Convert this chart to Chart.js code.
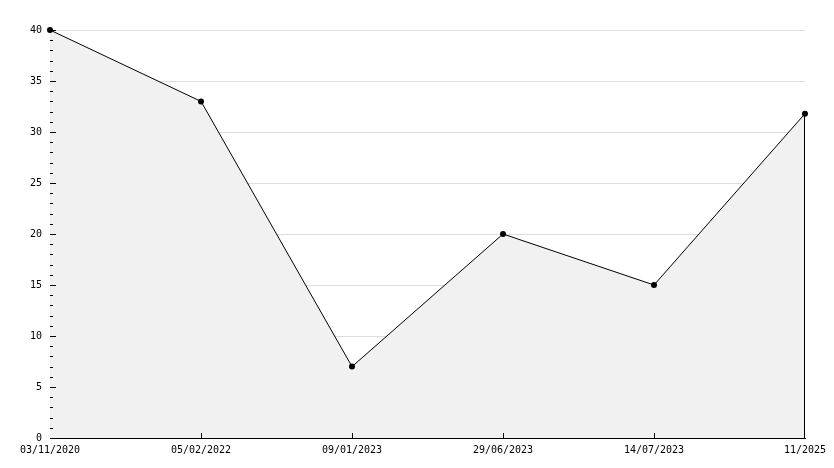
<!DOCTYPE html>
<html>
<head>
<meta charset="utf-8">
<script src="https://cdn.jsdelivr.net/npm/chart.js@4/dist/chart.umd.min.js"></script>
<style>
  body { margin: 0; background: #fff; }
  #wrap { width: 834px; height: 468px; }
</style>
</head>
<body>
<div id="wrap"><canvas id="grafico" width="834" height="468"></canvas></div>
<script>
// datos
const fechas = ['03/11/2020', '05/02/2022', '09/01/2023', '29/06/2023', '14/07/2023', '11/2025'];
const valores = [40, 33, 7, 20, 15, 31.8];
const yMin = 0;
const yMax = 40;
const yPaso = 5;
const yMenor = 1;

const fuente = { family: 'DejaVu Sans Mono', size: 10 };

// marcas menores del eje y, marcas del eje x hacia dentro y borde derecho del area
const marcasPlugin = {
  id: 'marcas',
  afterDatasetsDraw(chart) {
    const ctx = chart.ctx;
    const y = chart.scales.y;
    const x = chart.scales.x;
    const area = chart.chartArea;
    ctx.save();
    ctx.strokeStyle = '#000';
    ctx.lineWidth = 1;
    ctx.beginPath();
    for (let v = yMin; v <= yMax; v += yMenor) {
      const py = Math.round(y.getPixelForValue(v)) + 0.5;
      const largo = (v % yPaso === 0) ? 6 : 3;
      ctx.moveTo(area.left, py);
      ctx.lineTo(area.left + largo, py);
    }
    for (let i = 1; i < fechas.length - 1; i++) {
      const px = Math.round(x.getPixelForValue(i)) + 0.5;
      ctx.moveTo(px, area.bottom);
      ctx.lineTo(px, area.bottom - 5);
    }
    const ult = valores.length - 1;
    const pxU = Math.round(x.getPixelForValue(ult)) - 0.5;
    ctx.moveTo(pxU, y.getPixelForValue(valores[ult]));
    ctx.lineTo(pxU, area.bottom);
    ctx.stroke();
    ctx.restore();
  }
};

new Chart(document.getElementById('grafico'), {
  type: 'line',
  data: {
    labels: fechas,
    datasets: [{
      data: valores,
      borderColor: '#000',
      borderWidth: 1,
      backgroundColor: '#f1f1f1',
      fill: 'origin',
      tension: 0,
      pointRadius: 3,
      pointHoverRadius: 3,
      pointBackgroundColor: '#000',
      pointBorderColor: '#000',
      pointBorderWidth: 0,
      clip: false
    }]
  },
  options: {
    responsive: false,
    animation: false,
    layout: { padding: { top: 30, right: 29, left: 0, bottom: 0 } },
    plugins: {
      legend: { display: false },
      tooltip: { enabled: false },
      title: { display: false }
    },
    scales: {
      x: {
        type: 'category',
        offset: false,
        grid: { display: false, drawTicks: false },
        border: { display: true, color: '#000', width: 1 },
        ticks: {
          color: '#000',
          font: fuente,
          padding: 6,
          autoSkip: false,
          maxRotation: 0,
          minRotation: 0
        },
        afterFit(scale) { scale.height = 30; }
      },
      y: {
        min: yMin,
        max: yMax,
        grid: {
          drawTicks: false,
          color: (c) => (c.tick && c.tick.value === yMin) ? 'rgba(0,0,0,0)' : '#dddddd',
          lineWidth: 1
        },
        border: { display: true, color: '#000', width: 1 },
        ticks: {
          stepSize: yPaso,
          color: '#000',
          font: fuente,
          padding: 8
        },
        afterFit(scale) { scale.width = 50; }
      }
    }
  },
  plugins: [marcasPlugin]
});
</script>
</body>
</html>
